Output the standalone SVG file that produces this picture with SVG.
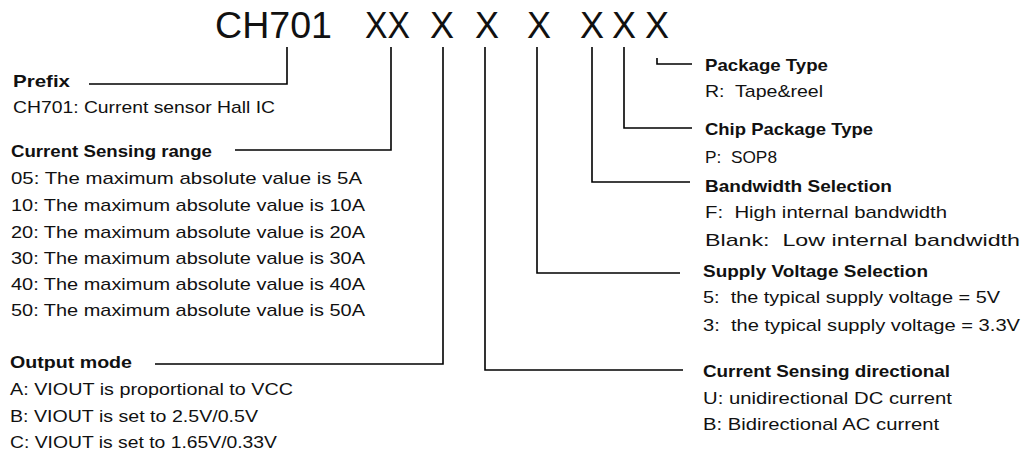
<svg xmlns="http://www.w3.org/2000/svg" width="1024" height="456" viewBox="0 0 1024 456">
<style>
text{font-family:"Liberation Sans",Arial,sans-serif;fill:#111}
.t{font-size:36px}
.h{font-size:17px;font-weight:bold}
.n{font-size:17px}
.c{fill:none;stroke:#000;stroke-width:1.6}
</style>
<rect width="1024" height="456" fill="#fff"/>
<g id="title">
<text class="t" x="215" y="38" textLength="117" lengthAdjust="spacingAndGlyphs">CH701</text>
<text class="t" x="365" y="38" textLength="45" lengthAdjust="spacingAndGlyphs">XX</text>
<text class="t" x="430" y="38">X</text>
<text class="t" x="475" y="38">X</text>
<text class="t" x="527" y="38">X</text>
<text class="t" x="580" y="38">X</text>
<text class="t" x="612" y="38">X</text>
<text class="t" x="645" y="38">X</text>
</g>
<g id="connectors">
<polyline class="c" points="287,47 287,84 89,84"/>
<polyline class="c" points="391,47 391,150 235,150"/>
<polyline class="c" points="443,47 443,364 155,364"/>
<polyline class="c" points="485,47 485,370 683,370"/>
<polyline class="c" points="537,47 537,273 680,273"/>
<polyline class="c" points="592,47 592,182 690,182"/>
<polyline class="c" points="624,47 624,128 692,128"/>
<polyline class="c" points="657,58 657,64 692,64"/>
</g>
<g id="prefix">
<text class="h" x="13" y="87" textLength="57" lengthAdjust="spacingAndGlyphs">Prefix</text>
<text class="n" x="13" y="113" textLength="262" lengthAdjust="spacingAndGlyphs">CH701: Current sensor Hall IC</text>
</g>
<g id="range">
<text class="h" x="11" y="157" textLength="201" lengthAdjust="spacingAndGlyphs">Current Sensing range</text>
<text class="n" x="11" y="184" textLength="351" lengthAdjust="spacingAndGlyphs">05: The maximum absolute value is 5A</text>
<text class="n" x="11" y="211" textLength="354" lengthAdjust="spacingAndGlyphs">10: The maximum absolute value is 10A</text>
<text class="n" x="11" y="238" textLength="354" lengthAdjust="spacingAndGlyphs">20: The maximum absolute value is 20A</text>
<text class="n" x="11" y="264" textLength="354" lengthAdjust="spacingAndGlyphs">30: The maximum absolute value is 30A</text>
<text class="n" x="11" y="290" textLength="354" lengthAdjust="spacingAndGlyphs">40: The maximum absolute value is 40A</text>
<text class="n" x="11" y="316" textLength="354" lengthAdjust="spacingAndGlyphs">50: The maximum absolute value is 50A</text>
</g>
<g id="output">
<text class="h" x="10" y="368" textLength="122" lengthAdjust="spacingAndGlyphs">Output mode</text>
<text class="n" x="10" y="395" textLength="283" lengthAdjust="spacingAndGlyphs">A: VIOUT is proportional to VCC</text>
<text class="n" x="10" y="422" textLength="248" lengthAdjust="spacingAndGlyphs">B: VIOUT is set to 2.5V/0.5V</text>
<text class="n" x="10" y="448" textLength="267" lengthAdjust="spacingAndGlyphs">C: VIOUT is set to 1.65V/0.33V</text>
</g>
<g id="package">
<text class="h" x="705" y="71" textLength="123" lengthAdjust="spacingAndGlyphs">Package Type</text>
<text class="n" x="705" y="97" textLength="118" lengthAdjust="spacingAndGlyphs" xml:space="preserve">R:  Tape&amp;reel</text>
</g>
<g id="chip">
<text class="h" x="705" y="135" textLength="168" lengthAdjust="spacingAndGlyphs">Chip Package Type</text>
<text class="n" x="705" y="163" textLength="72" lengthAdjust="spacingAndGlyphs" xml:space="preserve">P:  SOP8</text>
</g>
<g id="bandwidth">
<text class="h" x="705" y="192" textLength="187" lengthAdjust="spacingAndGlyphs">Bandwidth Selection</text>
<text class="n" x="705" y="218" textLength="242" lengthAdjust="spacingAndGlyphs" xml:space="preserve">F:  High internal bandwidth</text>
<text class="n" x="705" y="246" textLength="315" lengthAdjust="spacingAndGlyphs" xml:space="preserve">Blank:  Low internal bandwidth</text>
</g>
<g id="supply">
<text class="h" x="703" y="277" textLength="225" lengthAdjust="spacingAndGlyphs">Supply Voltage Selection</text>
<text class="n" x="703" y="303" textLength="297" lengthAdjust="spacingAndGlyphs" xml:space="preserve">5:  the typical supply voltage = 5V</text>
<text class="n" x="703" y="331" textLength="317" lengthAdjust="spacingAndGlyphs" xml:space="preserve">3:  the typical supply voltage = 3.3V</text>
</g>
<g id="direction">
<text class="h" x="703" y="377" textLength="247" lengthAdjust="spacingAndGlyphs">Current Sensing directional</text>
<text class="n" x="703" y="404" textLength="249" lengthAdjust="spacingAndGlyphs">U: unidirectional DC current</text>
<text class="n" x="703" y="430" textLength="236" lengthAdjust="spacingAndGlyphs">B: Bidirectional AC current</text>
</g>
</svg>
